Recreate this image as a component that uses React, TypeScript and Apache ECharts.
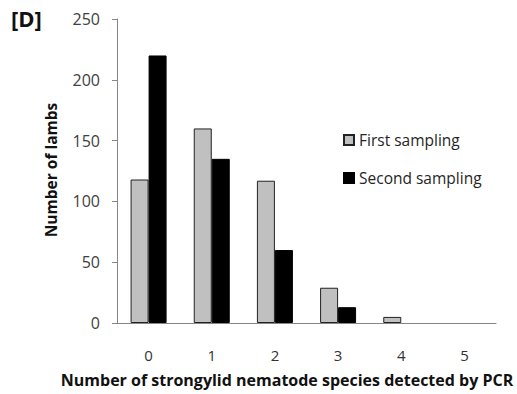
import React, { useEffect, useRef } from "react";
import * as echarts from "echarts";

const categories = ["0", "1", "2", "3", "4", "5"];
const firstSampling = [118, 160, 117, 29, 5, 0];
const secondSampling = [220, 135, 60, 13, 0, 0];
const yTicks = { min: 0, max: 250, interval: 50 };

const FONT = "'Open Sans', Lato, sans-serif";

const asBars = (arr: number[]) => arr.map((v) => (v === 0 ? "-" : v));

export default function App() {
  const ref = useRef<HTMLDivElement>(null);
  useEffect(() => {
    if (!ref.current) return;
    const chart = echarts.init(ref.current, null, { renderer: "svg" });
    chart.setOption({
      animation: false,
      backgroundColor: "#ffffff",
      grid: { left: 117, right: 21, top: 19, bottom: 71 },
      legend: {
        orient: "vertical",
        left: 338,
        top: 127,
        itemWidth: 10,
        itemHeight: 10,
        itemGap: 22,
        icon: "rect",
        textStyle: { fontFamily: FONT, fontSize: 15.5, lineHeight: 16, color: "#262626" },
        data: ["First sampling", "Second sampling"],
      },
      xAxis: {
        type: "category",
        data: categories,
        axisLine: { lineStyle: { color: "#868686", width: 1 } },
        axisTick: { alignWithLabel: true, length: 5, lineStyle: { color: "#868686" } },
        axisLabel: { margin: 24, fontFamily: FONT, fontSize: 15, color: "#333333" },
      },
      yAxis: {
        type: "value",
        min: yTicks.min,
        max: yTicks.max,
        interval: yTicks.interval,
        splitLine: { show: false },
        axisLine: { show: true, lineStyle: { color: "#868686", width: 1 } },
        axisTick: { show: true, length: 5, lineStyle: { color: "#868686" } },
        axisLabel: { margin: 17, fontFamily: FONT, fontSize: 16, color: "#404040" },
      },
      series: [
        {
          name: "First sampling",
          type: "bar",
          data: asBars(firstSampling),
          barWidth: 18,
          barGap: "0%",
          itemStyle: { color: "#c0c0c0", borderColor: "#222222", borderWidth: 1 },
        },
        {
          name: "Second sampling",
          type: "bar",
          data: asBars(secondSampling),
          barWidth: 18,
          itemStyle: { color: "#000000", borderColor: "#000000", borderWidth: 1 },
        },
      ],
      graphic: [
        {
          type: "text",
          left: 11,
          top: 7,
          style: { text: "[D]", font: `bold 22px ${FONT}`, fill: "#111111" },
        },
        {
          type: "text",
          x: 51,
          y: 170,
          rotation: Math.PI / 2,
          style: {
            text: "Number of lambs",
            font: `bold 15.5px ${FONT}`,
            fill: "#111111",
            align: "center",
            verticalAlign: "middle",
          },
        },
        {
          type: "text",
          x: 287,
          y: 380,
          style: {
            text: "Number of strongylid nematode species detected by PCR",
            font: `bold 16px ${FONT}`,
            fill: "#111111",
            align: "center",
            verticalAlign: "middle",
          },
        },
      ],
    });
    return () => chart.dispose();
  }, []);
  return <div ref={ref} style={{ width: 517, height: 394, position: "absolute", left: 0, top: 0 }} />;
}
